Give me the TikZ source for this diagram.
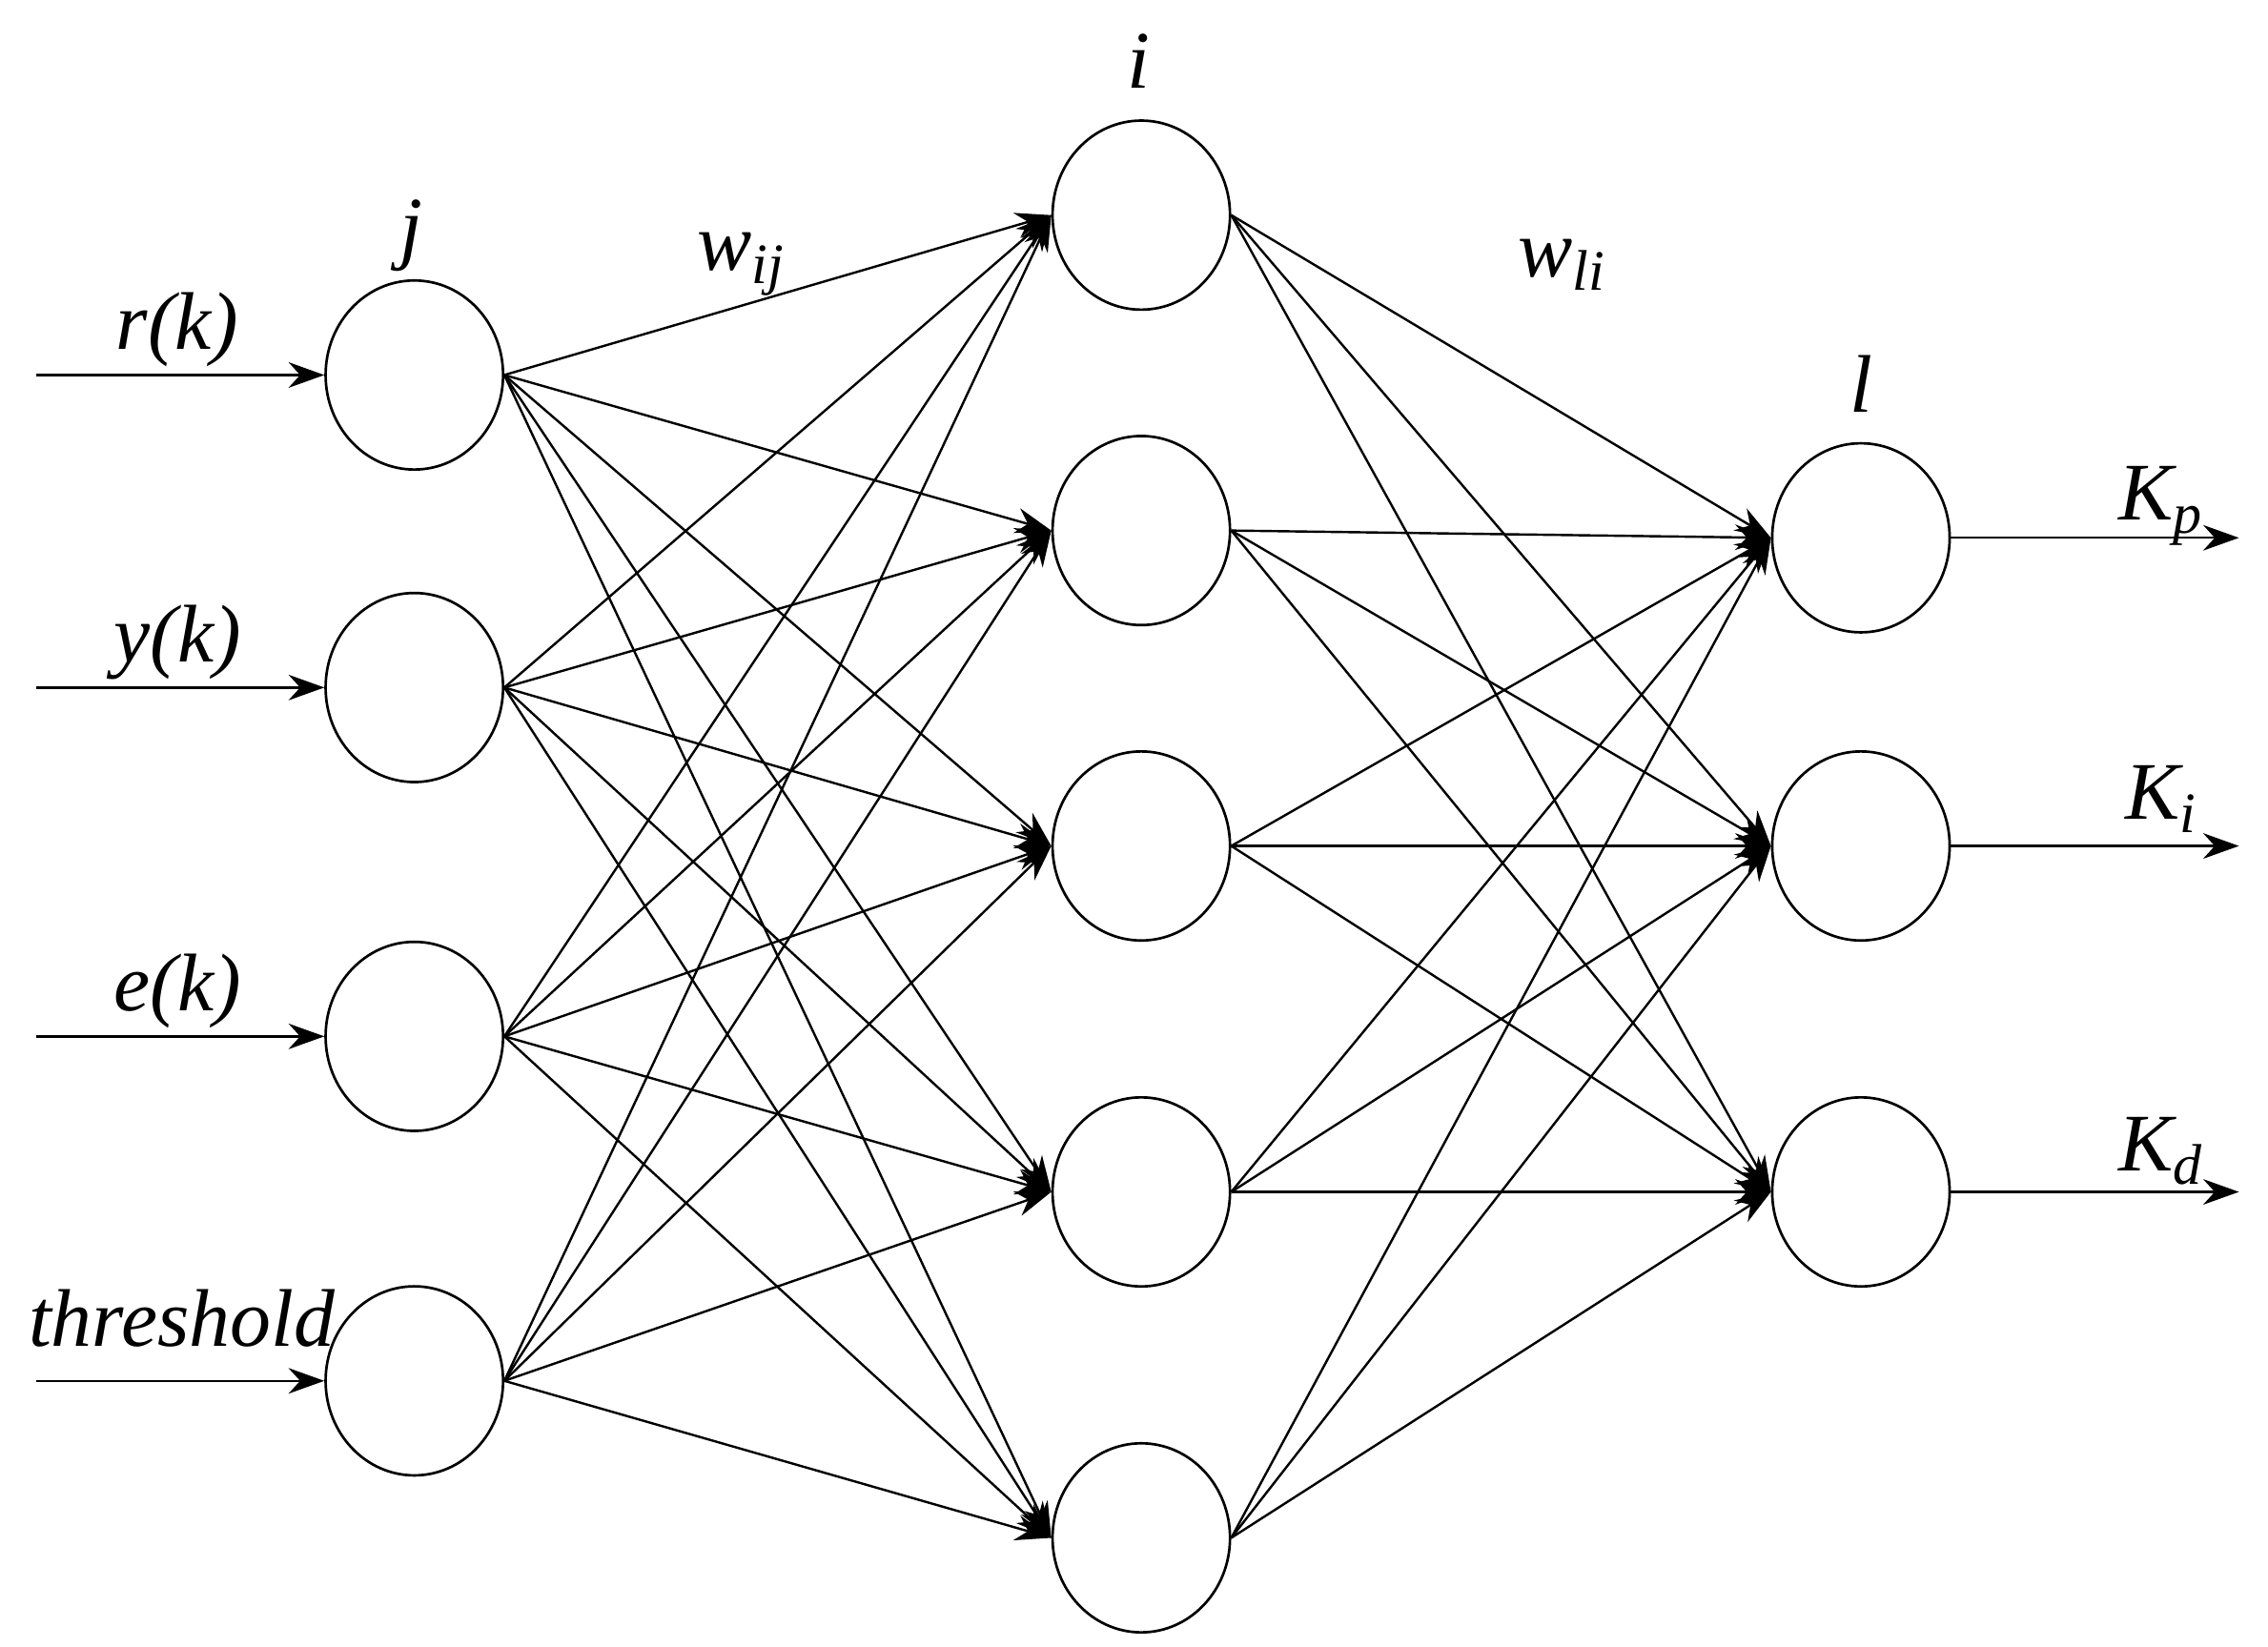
\documentclass[tikz,border=0pt]{standalone}
\usepackage{fontspec}
\setmainfont{Liberation Serif}
\usetikzlibrary{arrows.meta,shapes.geometric}
\begin{document}
\begin{tikzpicture}[x=0.01cm,y=-0.01cm,
  neuron/.style={draw,ellipse,minimum width=1.22cm,minimum height=1.3cm,inner sep=0pt,line width=0.5pt},
  conn/.style={line width=0.45pt,-{Stealth[length=7pt,width=5pt]}},
  lbl/.style={font=\fontsize{16}{18}\selectfont\itshape}]
\useasboundingbox (0,0) rectangle (1560,1133);
\foreach \n/\y in {1/258,2/473,3/713,4/950} \node[neuron] (j\n) at (285,\y) {};
\foreach \n/\y in {1/148,2/365,3/582,4/820,5/1058} \node[neuron] (h\n) at (785,\y) {};
\foreach \n/\y in {1/370,2/582,3/820} \node[neuron] (o\n) at (1280,\y) {};
\foreach \a in {1,...,4} \foreach \b in {1,...,5} \draw[conn] (j\a.east) -- (h\b.west);
\foreach \a in {1,...,5} \foreach \b in {1,...,3} \draw[conn] (h\a.east) -- (o\b.west);
\foreach \n/\y in {1/258,2/473,3/713,4/950} { \coordinate (s\n) at (25,\y); \draw[conn] (s\n) -- (j\n.west); }
\foreach \n/\y in {1/370,2/582,3/820} { \coordinate (t\n) at (1540,\y); \draw[conn] (o\n.east) -- (t\n); }
\node[lbl] (lj) at (283,162) {j};
\node[lbl] (lwij) at (510,182) {w\textsubscript{ij}};
\node[lbl] (li) at (783,42) {i};
\node[lbl] (lwli) at (1075,182) {w\textsubscript{li}};
\node[lbl] (ll) at (1280,264) {l};
\node[lbl] (lr) at (122,227) {r(k)};
\node[lbl] (ly) at (122,442) {y(k)};
\node[lbl] (le) at (122,682) {e(k)};
\node[lbl] (lt) at (125,907) {threshold};
\node[lbl] (lkp) at (1487,348) {K\textsubscript{p}};
\node[lbl] (lki) at (1487,550) {K\textsubscript{i}};
\node[lbl] (lkd) at (1487,792) {K\textsubscript{d}};
\end{tikzpicture}
\end{document}
